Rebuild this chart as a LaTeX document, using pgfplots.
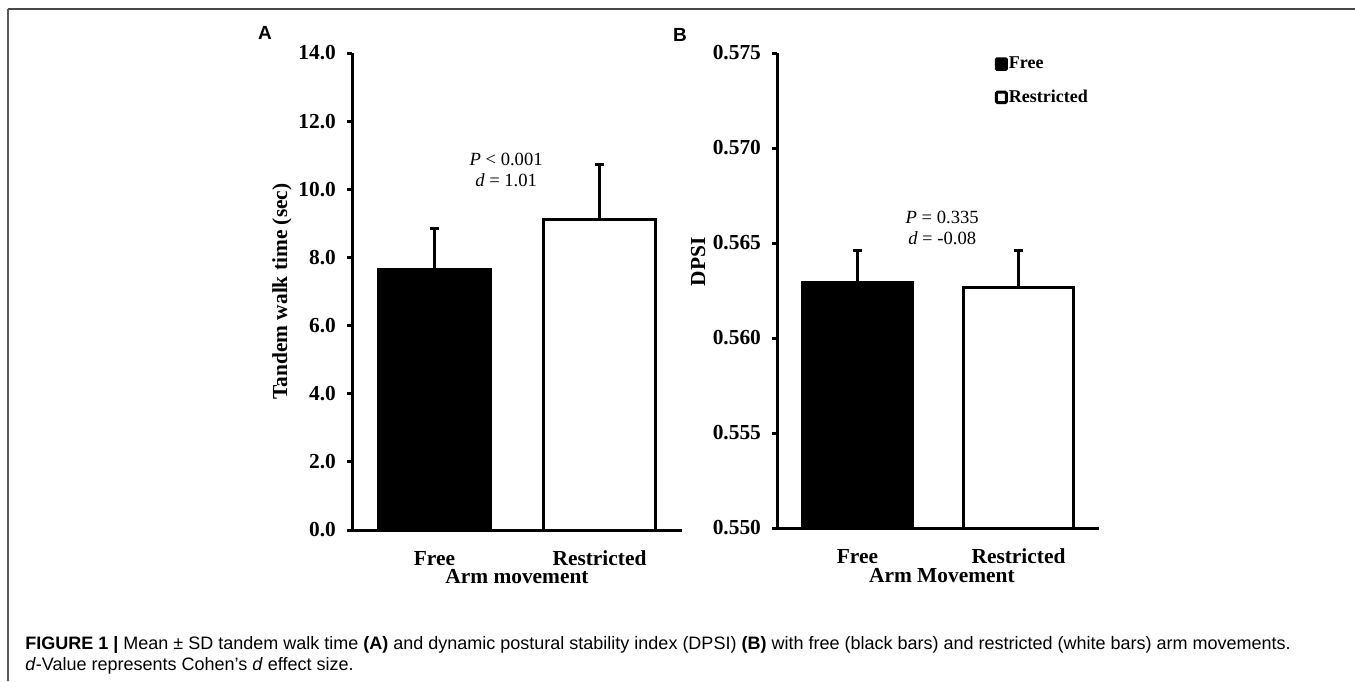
\documentclass[border=0pt]{standalone}
\usepackage{pgfplots}
\pgfplotsset{compat=1.18}
\usepackage{fontspec}
\setmainfont{Liberation Serif}
\newfontfamily\sansf{Liberation Sans}

\pgfplotsset{
  mybars/.style={
    scale only axis,
    xmin=-0.5, xmax=1.5,
    axis x line=bottom, axis y line=left,
    axis line style={-, line width=1.5pt, black},
    xtick={0,1}, xticklabels={Free,Restricted},
    x tick style={draw=none},
    tick align=outside, major tick length=2.5pt,
    y tick style={line width=1.5pt, black},
    /pgf/number format/assume math mode=true,
    tick label style={font=\bfseries\fontsize{10.7}{12}\selectfont},
    yticklabel style={xshift=-2pt},
    xticklabel style={yshift=-4.5pt},
    ybar, bar shift=0pt,
    axis on top,
  },
  myerr/.style={
    error bars/.cd, y dir=plus, y explicit,
    error bar style={line width=1.5pt, black},
    error mark=-,
    error mark options={rotate=90, line width=1.5pt, mark size=2.4pt, black},
  },
}

\begin{document}
\begin{tikzpicture}
\begin{scope}[x=0.5pt,y=-0.5pt]
\useasboundingbox (0,0) rectangle (1355,681);
\coordinate (Aorig) at (352,530);
\coordinate (Borig) at (777,528);
\draw[line width=0.9pt, color=black!72] (7.5,8.7) -- (1355,8.7);
\draw[line width=0.7pt, color=black!65] (8,8.5) -- (8,681);
\node[font=\sansf\bfseries\fontsize{9.5}{11}\selectfont] at (265,33) {A};
\node[font=\sansf\bfseries\fontsize{9.5}{11}\selectfont] at (680,35) {B};
\node[anchor=base west, inner sep=0pt, font=\sansf\fontsize{9}{10}\selectfont] at (25,649) {\textbf{FIGURE 1 |} Mean ± SD tandem walk time \textbf{(A)} and dynamic postural stability index (DPSI) \textbf{(B)} with free (black bars) and restricted (white bars) arm movements.};
\node[anchor=base west, inner sep=0pt, font=\sansf\fontsize{9}{10}\selectfont] at (25,670) {\textit{d}-Value represents Cohen’s \textit{d} effect size.};
\end{scope}

\begin{axis}[mybars,
  at={(Aorig)}, anchor=south west,
  width=165pt, height=238.5pt,
  ymin=0, ymax=14, ytick={0,2,...,14},
  /pgf/number format/.cd, fixed, fixed zerofill, precision=1, /pgfplots/.cd,
  bar width=0.675,
  clip=false,
  every axis y label/.style={at={(axis description cs:-0.212,0.5)}, rotate=90, anchor=center, font=\bfseries\fontsize{10.7}{12}\selectfont},
  every axis x label/.style={at={(axis description cs:0.5,-0.113)}, anchor=base, font=\bfseries\fontsize{10.7}{12}\selectfont},
  ylabel={Tandem walk time (sec)}, xlabel={Arm movement},
]
\addplot[fill=black, draw=black, line width=1.5pt, myerr]
  coordinates {(0,7.66) +- (0,1.20)};
\addplot[fill=white, draw=black, line width=1.5pt, myerr]
  coordinates {(1,9.10) +- (0,1.64)};
\node[font=\fontsize{9.3}{10.5}\selectfont, align=center] at (axis cs:0.434,10.56) {\textit{P} < 0.001\\\textit{d} = 1.01};
\end{axis}

\begin{axis}[mybars,
  at={(Borig)}, anchor=south west,
  width=161pt, height=237.5pt,
  ymin=0.55, ymax=0.575, ytick={0.55,0.555,0.56,0.565,0.57,0.575},
  /pgf/number format/.cd, fixed, fixed zerofill, precision=3, /pgfplots/.cd,
  scaled y ticks=false,
  bar width=0.68,
  every axis y label/.style={at={(axis description cs:-0.245,0.56)}, rotate=90, anchor=center, font=\bfseries\fontsize{10.7}{12}\selectfont},
  every axis x label/.style={at={(axis description cs:0.512,-0.1137)}, anchor=base, font=\bfseries\fontsize{10.7}{12}\selectfont},
  ylabel={DPSI}, xlabel={Arm Movement},
  legend style={at={(axis description cs:0.675,0.995)}, anchor=north west, draw=none, fill=none,
    inner sep=0pt, row sep=8pt, font=\bfseries\fontsize{9}{10}\selectfont,
    nodes={inner sep=0.5pt}},
  legend cell align=left,
]
\addplot[fill=black, draw=black, line width=1.5pt,
  legend image code/.code={\draw[fill=black, draw=black, line width=1pt, rounded corners=0.6pt] (0.5pt,-2.9pt) rectangle (6.1pt,2.9pt);},
  myerr]
  coordinates {(0,0.5629) +- (0,0.00173)};
\addlegendentry{Free}
\addplot[fill=white, draw=black, line width=1.5pt,
  legend image code/.code={\draw[fill=white, draw=black, line width=1.5pt, rounded corners=0.6pt] (0.8pt,-2.6pt) rectangle (5.8pt,2.6pt);},
  myerr]
  coordinates {(1,0.56268) +- (0,0.0019)};
\addlegendentry{Restricted}
\node[font=\fontsize{9.3}{10.5}\selectfont, align=center] at (axis cs:0.526,0.56579) {\textit{P} = 0.335\\\textit{d} = -0.08};
\end{axis}
\end{tikzpicture}
\end{document}
